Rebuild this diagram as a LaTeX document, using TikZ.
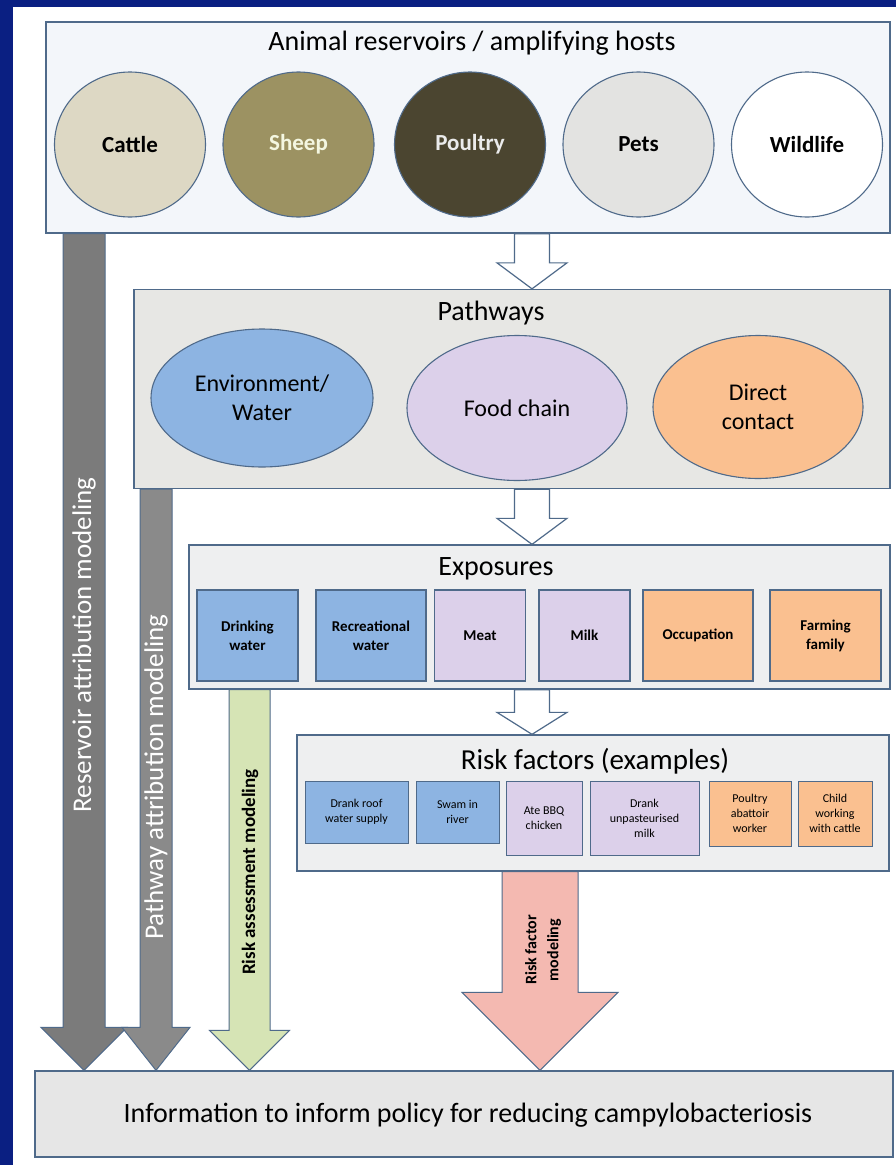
\documentclass[tikz,border=0pt]{standalone}
\usepackage{fontspec}
\setmainfont{Carlito}
\usepackage{tikz}
\usetikzlibrary{shapes.geometric,calc}

\definecolor{frameblue}{HTML}{0A1F82}
\definecolor{edge}{HTML}{4F6A8A}
\definecolor{hostbg}{HTML}{F3F6FA}
\definecolor{cattlec}{HTML}{DDD8C4}
\definecolor{sheepc}{HTML}{9C9262}
\definecolor{poultryc}{HTML}{4B4530}
\definecolor{petsc}{HTML}{E3E3E1}
\definecolor{pathbg}{HTML}{E7E7E4}
\definecolor{waterc}{HTML}{8DB4E2}
\definecolor{foodc}{HTML}{DCD0EA}
\definecolor{contactc}{HTML}{FAC090}
\definecolor{expbg}{HTML}{EEEFF0}
\definecolor{policybg}{HTML}{E6E6E6}
\definecolor{grayone}{HTML}{7B7B7B}
\definecolor{graytwo}{HTML}{8A8A8A}
\definecolor{greenc}{HTML}{D6E4B5}
\definecolor{pinkc}{HTML}{F4B9B1}

% block arrow: style, from, to, half shaft, half head, head length
\newcommand{\blockarrow}[6]{%
  \draw[#1] ($(#2)+(-#4,0)$) -- ($(#3)+(-#4,-#6)$) -- ($(#3)+(-#5,-#6)$) -- (#3)
    -- ($(#3)+(#5,-#6)$) -- ($(#3)+(#4,-#6)$) -- ($(#2)+(#4,0)$) -- cycle;}

\begin{document}
\begin{tikzpicture}[
  x=1pt, y=-1pt,
  panel/.style={draw=edge, line width=1.3pt, inner sep=0pt},
  title/.style={font=\fontsize{28}{32}\selectfont},
  host/.style={ellipse, draw=edge, line width=1.1pt, minimum width=151pt, minimum height=145pt, inner sep=0pt, font=\bfseries\fontsize{23}{27}\selectfont},
  route/.style={ellipse, draw=edge, line width=1.1pt, inner sep=0pt, align=center, font=\fontsize{24}{29}\selectfont},
  expbox/.style={draw=edge, line width=1.1pt, minimum height=91pt, inner sep=2pt, align=center, font=\bfseries\fontsize{15}{19}\selectfont},
  riskbox/.style={draw=edge, line width=1pt, inner sep=2pt, align=center, font=\fontsize{12}{15}\selectfont},
  hollow/.style={draw=edge, line width=1.2pt, fill=white},
  fat/.style={draw=edge, line width=1pt},
  armlabel/.style={rotate=90, align=center}
]
\fill[white] (0,0) rectangle (896,1165);
\fill[frameblue] (0,0) rectangle (896,7);
\fill[frameblue] (0,0) rectangle (13,1165);
\useasboundingbox (0,0) rectangle (896,1165);

% animal reservoirs
\node[panel, fill=hostbg, minimum width=844pt, minimum height=211pt] (hosts) at (468,127.5) {};
\node[title] (hostsTitle) at (472,43) {Animal reservoirs / amplifying hosts};
\node[host, fill=cattlec] (cattle) at (130,144.5) {Cattle};
\node[host, fill=sheepc, text=hostbg!90!yellow] (sheep) at (298.5,144.5) {Sheep};
\node[host, fill=poultryc, text=white!92!black] (poultry) at (470,144.5) {Poultry};
\node[host, fill=petsc] (pets) at (638.5,144.5) {Pets};
\node[host, fill=white] (wildlife) at (807,144.5) {Wildlife};

% pathways
\node[panel, fill=pathbg, minimum width=756pt, minimum height=199pt] (pathways) at (512,389) {};
\node[title] (pathwaysTitle) at (491,313) {Pathways};
\node[route, fill=waterc, minimum width=222pt, minimum height=138pt] (env) at (262,398) {Environment/\\Water};
\node[route, fill=foodc, minimum width=220pt, minimum height=145pt] (food) at (517,408) {Food chain};
\node[route, fill=contactc, minimum width=210pt, minimum height=143pt] (contact) at (758,407) {Direct\\contact};

% exposures
\node[panel, fill=expbg, minimum width=701pt, minimum height=144pt] (exposures) at (539.5,617) {};
\node[title] (exposuresTitle) at (496,569) {Exposures};
\node[expbox, fill=waterc, minimum width=101pt] (drinking) at (247.5,635.5) {Drinking\\water};
\node[expbox, fill=waterc, minimum width=110pt] (recreational) at (371,635.5) {Recreational\\water};
\node[expbox, fill=foodc, minimum width=91pt] (meat) at (480,635.5) {Meat};
\node[expbox, fill=foodc, minimum width=91pt] (milk) at (584.5,635.5) {Milk};
\node[expbox, fill=contactc, minimum width=110pt] (occupation) at (698,635.5) {Occupation};
\node[expbox, fill=contactc, minimum width=111pt] (farming) at (825.5,635.5) {Farming\\family};

% risk factors
\node[panel, fill=expbg, minimum width=592pt, minimum height=136pt] (risk) at (593,803) {};
\node[title, font=\fontsize{29}{33}\selectfont] (riskTitle) at (595,761) {Risk factors (examples)};
\node[riskbox, fill=waterc, minimum width=103pt, minimum height=62pt] (roof) at (356.5,812) {Drank roof\\water supply};
\node[riskbox, fill=waterc, minimum width=83pt, minimum height=62pt] (swam) at (457.5,812) {Swam in\\river};
\node[riskbox, fill=foodc, minimum width=76pt, minimum height=74pt] (bbq) at (544,818) {Ate BBQ\\chicken};
\node[riskbox, fill=foodc, minimum width=109pt, minimum height=74pt] (unpast) at (644.5,818) {Drank\\unpasteurised\\milk};
\node[riskbox, fill=contactc, minimum width=82pt, minimum height=65pt] (abattoir) at (750,813.5) {Poultry\\abattoir\\worker};
\node[riskbox, fill=contactc, minimum width=74pt, minimum height=65pt] (child) at (835,813.5) {Child\\working\\with cattle};

% policy
\node[panel, fill=policybg, minimum width=858pt, minimum height=86pt] (policy) at (464,1114) {};
\node[title] (policyText) at (468,1115) {Information to inform policy for reducing campylobacteriosis};

% hollow arrows between panels
\coordinate (hp1) at (hosts.south -| 532,0);
\coordinate (hp2) at (pathways.north -| 532,0);
\coordinate (pe1) at (pathways.south -| 532,0);
\coordinate (pe2) at (exposures.north -| 532,0);
\coordinate (er1) at (exposures.south -| 532,0);
\coordinate (er2) at (risk.north -| 532,0);
\blockarrow{hollow}{hp1}{hp2}{17.5}{35}{26}
\blockarrow{hollow}{pe1}{pe2}{17.5}{35}{26}
\blockarrow{hollow}{er1}{er2}{17.5}{35}{22}

% modeling arrows into policy
\coordinate (res1) at (hosts.south -| 84,0);
\coordinate (res2) at (policy.north -| 84,0);
\coordinate (pw1) at (pathways.south -| 156,0);
\coordinate (pw2) at (policy.north -| 156,0);
\coordinate (ra1) at (exposures.south -| 249.5,0);
\coordinate (ra2) at (policy.north -| 249.5,0);
\coordinate (rf1) at (risk.south -| 540,0);
\coordinate (rf2) at (policy.north -| 540,0);
\blockarrow{fat, fill=grayone}{res1}{res2}{21}{43}{43}
\blockarrow{fat, fill=graytwo}{pw1}{pw2}{16}{34}{43}
\blockarrow{fat, fill=greenc}{ra1}{ra2}{20.5}{40}{40}
\blockarrow{fat, fill=pinkc}{rf1}{rf2}{38}{78}{78}

\node[armlabel, text=white, font=\fontsize{27}{31}\selectfont] (resLabel) at (84,645) {Reservoir attribution modeling};
\node[armlabel, text=white, font=\fontsize{27}{31}\selectfont] (pwLabel) at (156,777) {Pathway attribution modeling};
\node[armlabel, font=\bfseries\fontsize{19}{23}\selectfont] (raLabel) at (250,872) {Risk assessment modeling};
\node[armlabel, font=\bfseries\fontsize{16}{22}\selectfont] (rfLabel) at (543,950) {Risk factor\\modeling};
\end{tikzpicture}
\end{document}
